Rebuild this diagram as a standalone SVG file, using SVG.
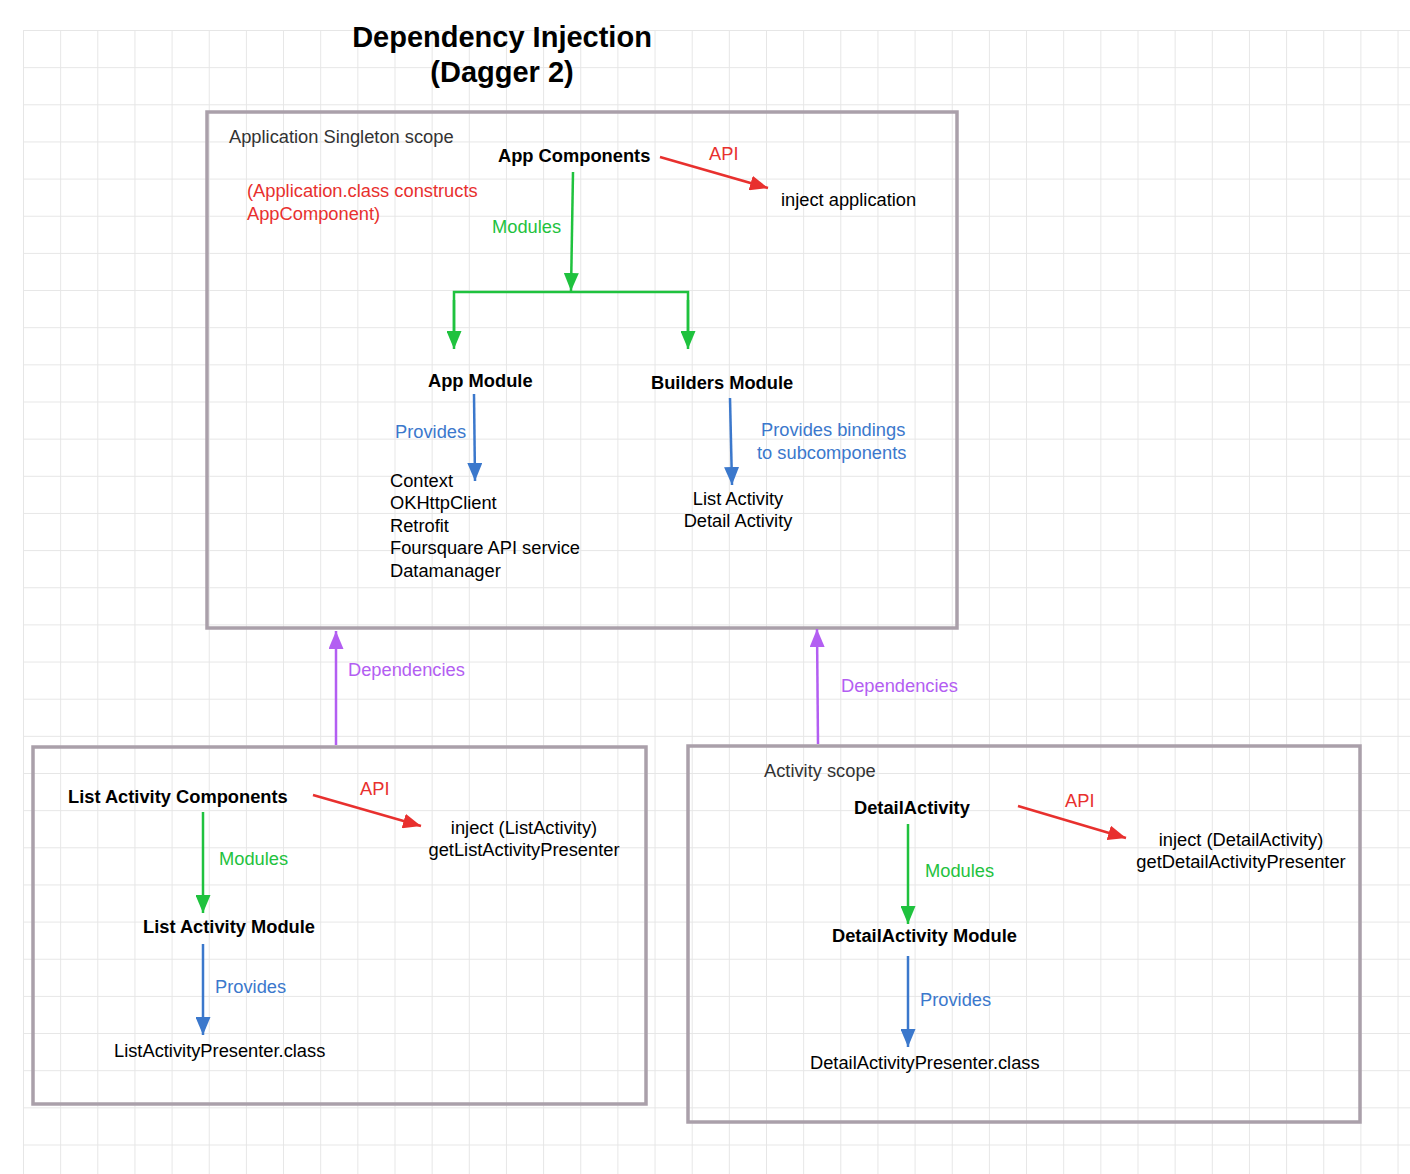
<svg xmlns="http://www.w3.org/2000/svg" width="1410" height="1174" viewBox="0 0 1410 1174">
<defs>
<pattern id="grid" x="23" y="30" width="37.15" height="37.15" patternUnits="userSpaceOnUse">
<path d="M0.5,0 V37.15 M0,0.5 H37.15" stroke="#e6e6e6" stroke-width="1" fill="none"/>
</pattern>
<marker id="ar" markerUnits="userSpaceOnUse" markerWidth="19" markerHeight="15" refX="18" refY="7.5" orient="auto"><path d="M0,0 L18,7.5 L0,15 z" fill="#e8302e"/></marker>
<marker id="ag" markerUnits="userSpaceOnUse" markerWidth="19" markerHeight="15" refX="18" refY="7.5" orient="auto"><path d="M0,0 L18,7.5 L0,15 z" fill="#1fc23e"/></marker>
<marker id="ab" markerUnits="userSpaceOnUse" markerWidth="19" markerHeight="15" refX="18" refY="7.5" orient="auto"><path d="M0,0 L18,7.5 L0,15 z" fill="#3b78cc"/></marker>
<marker id="ap" markerUnits="userSpaceOnUse" markerWidth="19" markerHeight="15" refX="18" refY="7.5" orient="auto"><path d="M0,0 L18,7.5 L0,15 z" fill="#b35ef2"/></marker>
</defs>
<style>
text{font-family:"Liberation Sans",Arial,Helvetica,sans-serif;font-size:18.3px;fill:#000}
.b{font-weight:bold}
.t{font-weight:bold;font-size:29px}
.g{fill:#333}
.red{fill:#e8302e}
.grn{fill:#1fc23e}
.blu{fill:#3b78cc}
.pur{fill:#b35ef2}
.box{fill:none;stroke:#aaa0aa;stroke-width:3.5}
.lr{stroke:#e8302e;stroke-width:2.5;fill:none;marker-end:url(#ar)}
.lg{stroke:#1fc23e;stroke-width:2.5;fill:none}
.lgm{marker-end:url(#ag)}
.lb{stroke:#3b78cc;stroke-width:2.5;fill:none;marker-end:url(#ab)}
.lp{stroke:#b35ef2;stroke-width:2.5;fill:none;marker-end:url(#ap)}
</style>
<rect width="1410" height="1174" fill="#fff"/>
<rect x="23" y="30" width="1387" height="1144" fill="url(#grid)"/>

<g id="title">
<text class="t" x="502" y="47" text-anchor="middle">Dependency Injection</text>
<text class="t" x="502" y="82" text-anchor="middle">(Dagger 2)</text>
</g>

<g id="app-scope">
<rect class="box" x="207" y="112" width="750" height="516"/>
<text class="g" x="229" y="143">Application Singleton scope</text>
<text class="red" x="247" y="197">(Application.class constructs</text>
<text class="red" x="247" y="220">AppComponent)</text>
</g>
<g id="app-components"><text class="b" x="498" y="162">App Components</text></g>
<g id="inject-application"><text x="781" y="206">inject application</text></g>
<g id="app-module"><text class="b" x="428" y="387">App Module</text></g>
<g id="builders-module"><text class="b" x="651" y="389">Builders Module</text></g>
<g id="app-provides">
<text x="390" y="487">Context</text>
<text x="390" y="509">OKHttpClient</text>
<text x="390" y="532">Retrofit</text>
<text x="390" y="554">Foursquare API service</text>
<text x="390" y="577">Datamanager</text>
</g>
<g id="builders-provides">
<text x="738" y="505" text-anchor="middle">List Activity</text>
<text x="738" y="527" text-anchor="middle">Detail Activity</text>
</g>

<g id="list-scope">
<rect class="box" x="33" y="747" width="613" height="357"/>
</g>
<g id="list-components"><text class="b" x="68" y="803">List Activity Components</text></g>
<g id="list-api-target">
<text x="524" y="834" text-anchor="middle">inject (ListActivity)</text>
<text x="524" y="856" text-anchor="middle">getListActivityPresenter</text>
</g>
<g id="list-module"><text class="b" x="143" y="933">List Activity Module</text></g>
<g id="list-presenter"><text x="114" y="1057">ListActivityPresenter.class</text></g>

<g id="activity-scope">
<rect class="box" x="688" y="746" width="672" height="376"/>
<text class="g" x="764" y="777">Activity scope</text>
</g>
<g id="detail-activity"><text class="b" x="854" y="814">DetailActivity</text></g>
<g id="detail-api-target">
<text x="1241" y="846" text-anchor="middle">inject (DetailActivity)</text>
<text x="1241" y="868" text-anchor="middle">getDetailActivityPresenter</text>
</g>
<g id="detail-module"><text class="b" x="832" y="942">DetailActivity Module</text></g>
<g id="detail-presenter"><text x="810" y="1069">DetailActivityPresenter.class</text></g>

<g id="connectors">
<line class="lr" x1="660" y1="157" x2="768" y2="188"/>
<text class="red" x="709" y="160">API</text>
<line class="lg lgm" x1="573" y1="172" x2="571" y2="291"/>
<text class="grn" x="492" y="233">Modules</text>
<polyline class="lg" points="454,340 454,292 688,292 688,340"/>
<line class="lg lgm" x1="454" y1="300" x2="454" y2="349"/>
<line class="lg lgm" x1="688" y1="300" x2="688" y2="349"/>
<line class="lb" x1="474" y1="394" x2="475" y2="481"/>
<text class="blu" x="395" y="438">Provides</text>
<line class="lb" x1="730" y1="398" x2="732" y2="485"/>
<text class="blu" x="761" y="436">Provides bindings</text>
<text class="blu" x="757" y="459">to subcomponents</text>
<line class="lp" x1="336" y1="745" x2="336" y2="631"/>
<text class="pur" x="348" y="676">Dependencies</text>
<line class="lp" x1="818" y1="744" x2="817" y2="629"/>
<text class="pur" x="841" y="692">Dependencies</text>
<line class="lr" x1="313" y1="795" x2="421" y2="826"/>
<text class="red" x="360" y="795">API</text>
<line class="lg lgm" x1="203" y1="812" x2="203" y2="913"/>
<text class="grn" x="219" y="865">Modules</text>
<line class="lb" x1="203" y1="944" x2="203" y2="1035"/>
<text class="blu" x="215" y="993">Provides</text>
<line class="lr" x1="1018" y1="806" x2="1126" y2="838"/>
<text class="red" x="1065" y="807">API</text>
<line class="lg lgm" x1="908" y1="824" x2="908" y2="924"/>
<text class="grn" x="925" y="877">Modules</text>
<line class="lb" x1="908" y1="956" x2="908" y2="1047"/>
<text class="blu" x="920" y="1006">Provides</text>
</g>
</svg>
